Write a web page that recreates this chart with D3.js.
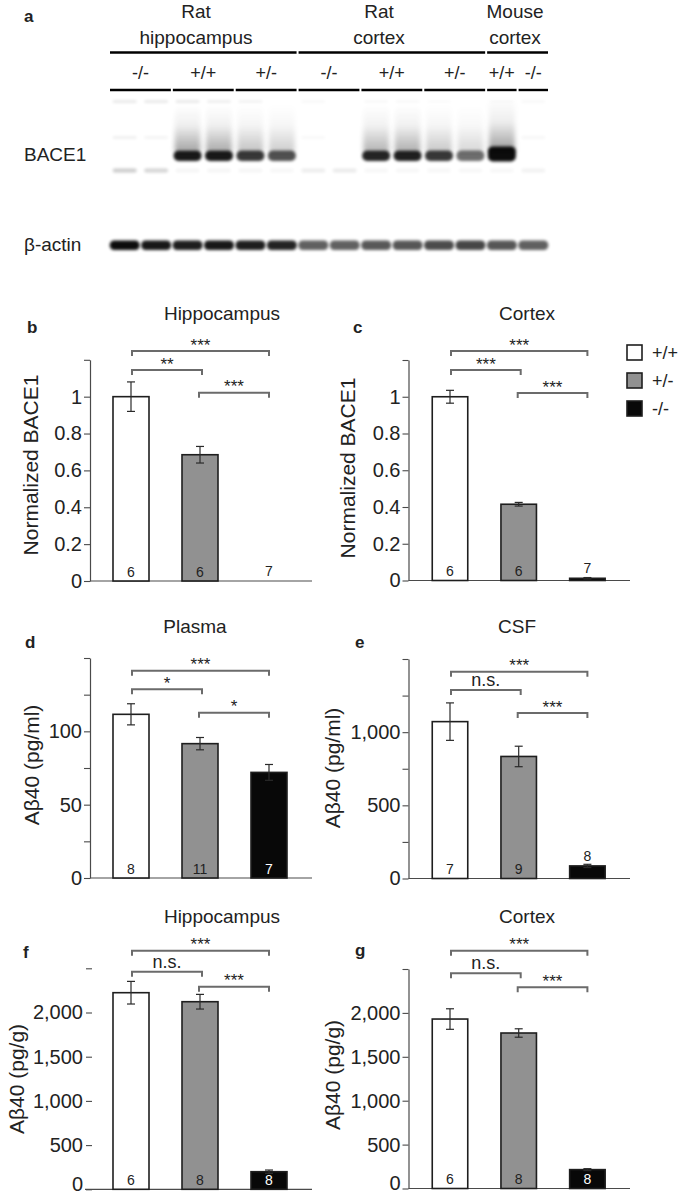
<!DOCTYPE html>
<html><head><meta charset="utf-8">
<script src="https://cdn.jsdelivr.net/npm/d3@7"></script>
<style>
body{margin:0;background:#fff;}
svg{display:block;font-family:"Liberation Sans",Arial,Helvetica,sans-serif;}
</style></head><body>
<svg id="fig" width="685" height="1194"></svg>
<script>
// ---------------- DATA ----------------
const genotypes = ["+/+", "+/-", "-/-"];
const comparisons = [["+/+", "-/-"], ["+/+", "+/-"], ["+/-", "-/-"]];

// b: Hippocampus BACE1
const hippBaceMean = [1.0, 0.685, 0];
const hippBaceErr  = [0.08, 0.045, 0];
const hippBaceN    = [6, 6, 7];
const hippBaceSig  = ["***", "**", "***"];
// c: Cortex BACE1
const ctxBaceMean = [1.0, 0.415, 0.012];
const ctxBaceErr  = [0.035, 0.01, 0.004];
const ctxBaceN    = [6, 6, 7];
const ctxBaceSig  = ["***", "***", "***"];
// d: Plasma Abeta40
const plasmaMean = [111.6, 91.6, 72];
const plasmaErr  = [7.2, 4.2, 5.4];
const plasmaN    = [8, 11, 7];
const plasmaSig  = ["***", "*", "*"];
// e: CSF Abeta40
const csfMean = [1072, 834, 86];
const csfErr  = [128, 70, 11];
const csfN    = [7, 9, 8];
const csfSig  = ["***", "n.s.", "***"];
// f: Hippocampus Abeta40
const hippAbMean = [2224, 2122, 199];
const hippAbErr  = [128, 83, 19];
const hippAbN    = [6, 8, 8];
const hippAbSig  = ["***", "n.s.", "***"];
// g: Cortex Abeta40
const ctxAbMean = [1930, 1771, 215];
const ctxAbErr  = [117, 48, 11];
const ctxAbN    = [6, 8, 8];
const ctxAbSig  = ["***", "n.s.", "***"];

// tick values / labels
const baceTicks = [0, 0.2, 0.4, 0.6, 0.8, 1, 1.2];
const baceTickLabels = ["0", "0.2", "0.4", "0.6", "0.8", "1", ""];
const plasmaTicks = [0, 25, 50, 75, 100, 125, 150];
const plasmaTickLabels = ["0", "", "50", "", "100", "", ""];
const csfTicks = [0, 250, 500, 750, 1000, 1250, 1500];
const csfTickLabels = ["0", "", "500", "", "1,000", "", ""];
const tissueTicks = [0, 500, 1000, 1500, 2000, 2500];
const tissueTickLabels = ["0", "500", "1,000", "1,500", "2,000", ""];

// western blot (panel a)
const laneGenotype = ["-/-","-/-","+/+","+/+","+/-","+/-","-/-","-/-","+/+","+/+","+/-","+/-","+/+","-/-"];
const bace1Band  = [0, 0, 0.95, 0.95, 0.82, 0.72, 0, 0, 0.9, 0.92, 0.82, 0.6, 1.0, 0];
const bace1Smear = [0, 0, 0.9, 0.85, 0.6, 0.5, 0, 0, 0.75, 0.8, 0.55, 0.4, 1.0, 0];
const faintHigh  = [0.1, 0.1, 0.1, 0.08, 0.06, 0, 0.03, 0, 0.03, 0.03, 0.02, 0, 0.02, 0.03];
const faintMid   = [0.07, 0.05, 0, 0, 0, 0, 0.03, 0, 0, 0, 0, 0, 0, 0.04];
const faintLow   = [0.2, 0.17, 0.04, 0.04, 0.04, 0.03, 0.07, 0.08, 0.03, 0.03, 0.03, 0.03, 0.03, 0.05];
const actinBand  = [0.95, 0.9, 0.88, 0.9, 0.88, 0.86, 0.62, 0.62, 0.65, 0.66, 0.7, 0.72, 0.66, 0.62];
const tissueLine1 = ["Rat", "Rat", "Mouse"];
const tissueLine2 = ["hippocampus", "cortex", "cortex"];
const tissueLanes = [[0, 5], [6, 11], [12, 13]];
const genotypeLabels = ["-/-", "+/+", "+/-", "-/-", "+/+", "+/-", "+/+", "-/-"];
const genotypeLanes = [[0, 1], [2, 3], [4, 5], [6, 7], [8, 9], [10, 11], [12, 12], [13, 13]];

// ---------------- STYLE / LAYOUT ----------------
const FONT = "Liberation Sans, Arial, Helvetica, sans-serif";
const fills = {"+/+": "#ffffff", "+/-": "#919191", "-/-": "#080808"};
const axisColor = "#4a4a4a";
const textColor = "#222";
const bracketColor = "#6b6b6b";

const svg = d3.select("#fig");
const defs = svg.append("defs");
defs.append("filter").attr("id", "blur1").attr("x", "-50%").attr("y", "-100%").attr("width", "200%").attr("height", "300%")
  .append("feGaussianBlur").attr("stdDeviation", 1.4);
defs.append("filter").attr("id", "blur2").attr("x", "-50%").attr("y", "-50%").attr("width", "200%").attr("height", "200%")
  .append("feGaussianBlur").attr("stdDeviation", 2.4);
const grad = defs.append("linearGradient").attr("id", "smear").attr("x1", 0).attr("x2", 0).attr("y1", 0).attr("y2", 1);
grad.append("stop").attr("offset", "0%").attr("stop-color", "#000").attr("stop-opacity", 0.0);
grad.append("stop").attr("offset", "45%").attr("stop-color", "#000").attr("stop-opacity", 0.07);
grad.append("stop").attr("offset", "100%").attr("stop-color", "#000").attr("stop-opacity", 0.4);

// ---------------- PANEL a ----------------
(function drawBlot() {
  const g = svg.append("g");
  const lane = d3.scaleBand().domain(d3.range(laneGenotype.length)).range([109, 549]);
  const lc = i => lane(i) + lane.bandwidth() / 2;
  const tissueLabelX = [196, 379, 515];

  g.append("text").attr("x", 24).attr("y", 22).attr("font-size", 17).attr("font-weight", "bold")
    .attr("fill", textColor).attr("font-family", FONT).text("a");

  tissueLanes.forEach((r, k) => {
    const x1 = lane(r[0]) + 1, x2 = lane(r[1]) + lane.bandwidth() - 1;
    g.append("line").attr("x1", x1).attr("x2", x2).attr("y1", 52.5).attr("y2", 52.5)
      .attr("stroke", "#000").attr("stroke-width", 2.4);
    g.append("text").attr("x", tissueLabelX[k]).attr("y", 17.5).attr("text-anchor", "middle")
      .attr("font-size", 19).attr("fill", textColor).text(tissueLine1[k]);
    g.append("text").attr("x", tissueLabelX[k]).attr("y", 44).attr("text-anchor", "middle")
      .attr("font-size", 19).attr("fill", textColor).text(tissueLine2[k]);
  });
  genotypeLanes.forEach((r, k) => {
    const x1 = lane(r[0]) + 1, x2 = lane(r[1]) + lane.bandwidth() - 1;
    g.append("line").attr("x1", x1).attr("x2", x2).attr("y1", 90).attr("y2", 90)
      .attr("stroke", "#000").attr("stroke-width", 2.4);
    g.append("text").attr("x", (x1 + x2) / 2).attr("y", 78.5).attr("text-anchor", "middle")
      .attr("font-size", 18).attr("fill", textColor).text(genotypeLabels[k]);
  });

  g.append("text").attr("x", 24).attr("y", 160.5).attr("font-size", 19).attr("fill", textColor).text("BACE1");
  g.append("text").attr("x", 24).attr("y", 251).attr("font-size", 19).attr("fill", textColor).text("β-actin");

  const bw = 28;
  laneGenotype.forEach((gt, i) => {
    const cx = lc(i);
    const big = i === 12;
    if (bace1Smear[i] > 0) {
      g.append("rect").attr("x", cx - bw / 2 + 1).attr("y", big ? 98 : 104).attr("width", bw - 2)
        .attr("height", big ? 54 : 48).attr("fill", "url(#smear)").attr("opacity", bace1Smear[i])
        .attr("filter", "url(#blur2)");
    }
    [[faintHigh, 101.5, 2.5], [faintMid, 137.5, 2.5], [faintLow, 170.5, 4]].forEach(([arr, yy, h]) => {
      if (arr[i] > 0) g.append("rect").attr("x", cx - bw / 2 + 2).attr("y", yy - h / 2).attr("width", bw - 4)
        .attr("height", h).attr("rx", h / 2).attr("fill", "#000").attr("opacity", arr[i]).attr("filter", "url(#blur1)");
    });
    if (bace1Band[i] > 0) {
      g.append("rect").attr("x", cx - bw / 2).attr("y", big ? 146.5 : 150.5).attr("width", bw)
        .attr("height", big ? 15 : 10.5).attr("rx", 5).attr("fill", "#000").attr("opacity", bace1Band[i] * 0.95)
        .attr("filter", "url(#blur1)");
    }
    g.append("rect").attr("x", cx - 15).attr("y", 240.5).attr("width", 30).attr("height", 9.5).attr("rx", 4.5)
      .attr("fill", "#000").attr("opacity", actinBand[i]).attr("filter", "url(#blur1)");
  });
})();

// ---------------- BAR PANELS ----------------
const L = {c0: 131, step: 69, bw: 36, axisX: 90, xStart: 90, xEnd: 312, pad: 2, showDomain: true, zeroDy: "0.32em"};
const R = {c0: 450, step: 68.7, bw: 35.5, axisX: 408.5, xStart: 408.5, xEnd: 630, pad: 2, showDomain: true, zeroDy: "0.32em"};

const panels = [
  Object.assign({}, L, {mean: hippBaceMean, err: hippBaceErr, n: hippBaceN, sig: hippBaceSig,
    ticks: baceTicks, tickLabels: baceTickLabels, domain: [0, 1.2], y0: 581, yTop: 359.8,
    title: "Hippocampus", titleX: 222, titleY: 320, letter: "b", letterX: 27, letterY: 333,
    ylab: "Normalized BACE1", ylabX: 30, ylabY: 465, brY: [351, 370, 392.7]}),
  Object.assign({}, R, {mean: ctxBaceMean, err: ctxBaceErr, n: ctxBaceN, sig: ctxBaceSig,
    ticks: baceTicks, tickLabels: baceTickLabels, domain: [0, 1.2], y0: 580.5, yTop: 360,
    title: "Cortex", titleX: 527, titleY: 320, letter: "c", letterX: 353, letterY: 333,
    ylab: "Normalized BACE1", ylabX: 347, ylabY: 468, brY: [351, 370, 393], legend: true}),
  Object.assign({}, L, {mean: plasmaMean, err: plasmaErr, n: plasmaN, sig: plasmaSig,
    ticks: plasmaTicks, tickLabels: plasmaTickLabels, domain: [0, 150], y0: 878, yTop: 658,
    title: "Plasma", titleX: 195, titleY: 633, letter: "d", letterX: 25, letterY: 648,
    ylab: "Aβ40 (pg/ml)", ylabX: 31, ylabY: 765, brY: [670.7, 689.3, 712.7]}),
  Object.assign({}, R, {mean: csfMean, err: csfErr, n: csfN, sig: csfSig,
    ticks: csfTicks, tickLabels: csfTickLabels, domain: [0, 1500], y0: 878.5, yTop: 659,
    title: "CSF", titleX: 517, titleY: 633, letter: "e", letterX: 355, letterY: 648,
    ylab: "Aβ40 (pg/ml)", ylabX: 332, ylabY: 768, brY: [671.7, 690, 713]}),
  Object.assign({}, L, {mean: hippAbMean, err: hippAbErr, n: hippAbN, sig: hippAbSig,
    ticks: tissueTicks, tickLabels: tissueTickLabels, domain: [0, 2500], y0: 1189.3, yTop: 968.3,
    axisX: 92, xStart: 85, pad: 3, showDomain: false, zeroDy: "0.05em",
    title: "Hippocampus", titleX: 222, titleY: 922.7, letter: "f", letterX: 23, letterY: 958,
    ylab: "Aβ40 (pg/g)", ylabX: 16, ylabY: 1079, brY: [950.7, 971.7, 986.7]}),
  Object.assign({}, R, {mean: ctxAbMean, err: ctxAbErr, n: ctxAbN, sig: ctxAbSig,
    ticks: tissueTicks, tickLabels: tissueTickLabels, domain: [0, 2500], y0: 1188.5, yTop: 969,
    zeroDy: "0.05em",
    title: "Cortex", titleX: 527, titleY: 922.7, letter: "g", letterX: 355, letterY: 956,
    ylab: "Aβ40 (pg/g)", ylabX: 332, ylabY: 1075, brY: [950.7, 973.3, 987.3]})
];

function drawPanel(p) {
  const g = svg.append("g");
  const pIn = 1 - p.bw / p.step;
  const x = d3.scaleBand().domain(genotypes)
    .range([p.c0 - p.step / 2, p.c0 + 2.5 * p.step]).paddingInner(pIn).paddingOuter(pIn / 2);
  const cx = k => x(k) + x.bandwidth() / 2;
  const y = d3.scaleLinear().domain(p.domain).range([p.y0, p.yTop]);

  const axG = g.append("g").attr("transform", `translate(${p.axisX},0)`)
    .call(d3.axisLeft(y).tickValues(p.ticks).tickSize(6).tickSizeOuter(0).tickPadding(p.pad)
      .tickFormat((d, i) => p.tickLabels[i]));
  axG.attr("font-family", FONT).attr("font-size", 20);
  axG.select(".domain").attr("stroke", p.showDomain ? axisColor : "none").attr("stroke-width", 1.2);
  axG.selectAll(".tick line").attr("stroke", axisColor).attr("stroke-width", 1.1);
  axG.selectAll(".tick text").attr("fill", textColor)
    .attr("dy", d => d === 0 ? p.zeroDy : "0.32em");

  g.append("line").attr("x1", p.xStart).attr("x2", p.xEnd).attr("y1", y(0)).attr("y2", y(0))
    .attr("stroke", axisColor).attr("stroke-width", 1.2);

  const rows = genotypes.map((k, i) => ({k, m: p.mean[i], e: p.err[i], n: p.n[i]}));

  g.selectAll("rect.bar").data(rows.filter(d => d.m > 0)).join("rect").attr("class", "bar")
    .attr("x", d => x(d.k)).attr("width", x.bandwidth())
    .attr("y", d => y(d.m)).attr("height", d => y(0) - y(d.m))
    .attr("fill", d => fills[d.k]).attr("stroke", "#1e1e1e").attr("stroke-width", 1.6);

  rows.filter(d => d.e > 0).forEach(d => {
    const c = cx(d.k), hi = y(d.m + d.e), lo = y(d.m - d.e);
    const eg = g.append("g").attr("stroke", "#2a2a2a").attr("stroke-width", 1.2);
    eg.append("line").attr("x1", c).attr("x2", c).attr("y1", hi).attr("y2", lo);
    eg.append("line").attr("x1", c - 4).attr("x2", c + 4).attr("y1", hi).attr("y2", hi);
    eg.append("line").attr("x1", c - 4).attr("x2", c + 4).attr("y1", lo).attr("y2", lo);
  });

  rows.forEach(d => {
    const h = y(0) - y(d.m);
    const inside = h >= 15;
    g.append("text").attr("x", cx(d.k)).attr("y", inside ? y(0) - 4.5 : y(d.m) - 5)
      .attr("text-anchor", "middle").attr("font-size", 14)
      .attr("fill", inside && d.k === "-/-" ? "#fff" : textColor).text(d.n);
  });

  comparisons.forEach(([a, b], i) => {
    const yy = p.brY[i];
    const x1 = cx(a) + (a === "+/-" ? -1 : 1);
    const x2 = cx(b) + (b === "+/-" ? 2 : 0);
    g.append("path").attr("d", `M${x1},${yy + 5}V${yy}H${x2}V${yy + 5}`)
      .attr("fill", "none").attr("stroke", bracketColor).attr("stroke-width", 2);
    const lab = p.sig[i];
    g.append("text").attr("x", (x1 + x2) / 2).attr("y", lab === "n.s." ? yy - 4 : yy - 0.5)
      .attr("text-anchor", "middle").attr("font-size", lab === "n.s." ? 18 : 17)
      .attr("fill", textColor).text(lab);
  });

  g.append("text").attr("x", p.titleX).attr("y", p.titleY).attr("text-anchor", "middle")
    .attr("font-size", 19).attr("fill", textColor).text(p.title);
  g.append("text").attr("x", p.letterX).attr("y", p.letterY).attr("font-size", 17).attr("font-weight", "bold")
    .attr("fill", textColor).text(p.letter);
  g.append("text").attr("transform", `translate(${p.ylabX},${p.ylabY}) rotate(-90)`)
    .attr("text-anchor", "middle").attr("dominant-baseline", "central")
    .attr("font-size", 21).attr("fill", textColor).text(p.ylab);

  if (p.legend) {
    const lg = g.append("g").attr("transform", "translate(627,345)");
    genotypes.forEach((k, i) => {
      lg.append("rect").attr("x", 0).attr("y", i * 28).attr("width", 15).attr("height", 15)
        .attr("fill", fills[k]).attr("stroke", "#1e1e1e").attr("stroke-width", 1.6);
      lg.append("text").attr("x", 25).attr("y", i * 28 + 7.5).attr("dominant-baseline", "central")
        .attr("font-size", 18).attr("fill", textColor).text(k);
    });
  }
}
svg.attr("font-family", FONT);
panels.forEach(drawPanel);
</script>
</body></html>
